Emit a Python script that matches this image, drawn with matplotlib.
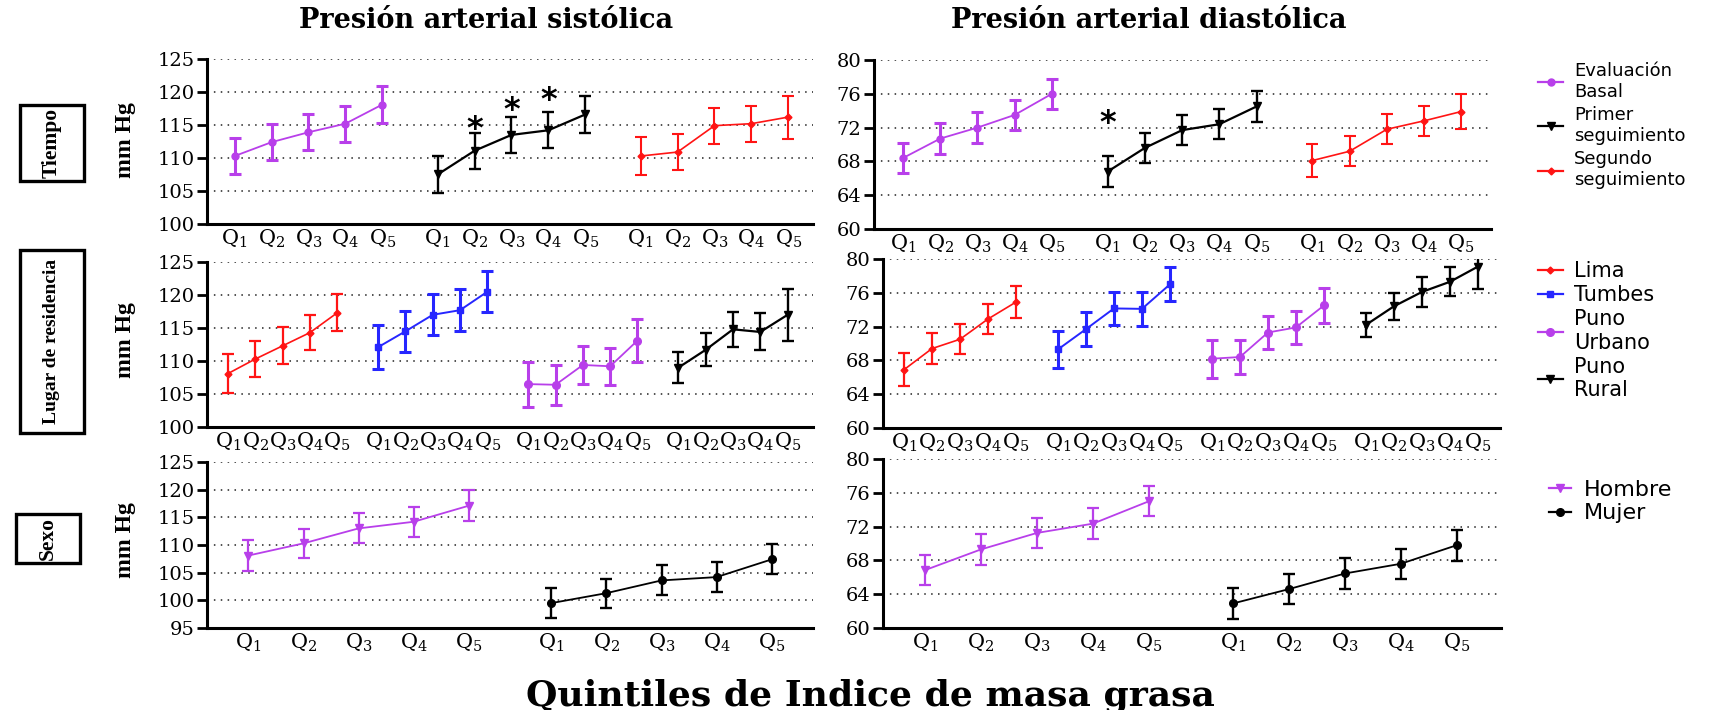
import matplotlib
matplotlib.use('Agg')
import matplotlib.pyplot as plt
from matplotlib.lines import Line2D
from matplotlib.patches import Rectangle
import numpy as np

W, H = 1731, 710
plt.rcParams['mathtext.fontset'] = 'dejavuserif'
plt.rcParams['font.family'] = ['DejaVu Serif']

# ---------------- data ----------------
quintiles = ['Q$_1$', 'Q$_2$', 'Q$_3$', 'Q$_4$', 'Q$_5$']

# Tiempo - systolic
sbp_basal = [110.3, 112.4, 113.9, 115.2, 118.1]
sbp_basal_err = [2.75, 2.75, 2.7, 2.75, 2.75]
sbp_primer = [107.5, 111.1, 113.5, 114.2, 116.6]
sbp_primer_err = [2.8, 2.75, 2.7, 2.75, 2.75]
sbp_segundo = [110.3, 110.9, 114.9, 115.2, 116.2]
sbp_segundo_err = [2.9, 2.7, 2.75, 2.75, 3.25]
sbp_star_q = [1, 2, 3]
sbp_star_y = [115.4, 118.3, 119.7]

# Tiempo - diastolic
dbp_basal = [68.4, 70.7, 72.0, 73.5, 76.0]
dbp_basal_err = [1.8, 1.8, 1.8, 1.8, 1.8]
dbp_primer = [66.8, 69.6, 71.7, 72.4, 74.5]
dbp_primer_err = [1.8, 1.8, 1.8, 1.8, 1.8]
dbp_segundo = [68.1, 69.2, 71.8, 72.8, 73.9]
dbp_segundo_err = [1.9, 1.8, 1.8, 1.8, 2.1]
dbp_star_q = [0]
dbp_star_y = [73.3]

# Lugar de residencia - systolic
sbp_lima = [108.1, 110.3, 112.3, 114.3, 117.3]
sbp_lima_err = [3.0, 2.7, 2.8, 2.7, 2.8]
sbp_tumbes = [112.1, 114.5, 117.0, 117.7, 120.5]
sbp_tumbes_err = [3.35, 3.1, 3.1, 3.2, 3.1]
sbp_punou = [106.5, 106.4, 109.4, 109.2, 113.1]
sbp_punou_err = [3.4, 3.0, 2.9, 2.8, 3.2]
sbp_punor = [109.0, 111.7, 114.8, 114.4, 117.0]
sbp_punor_err = [2.4, 2.5, 2.7, 2.8, 3.9]

# Lugar de residencia - diastolic
dbp_lima = [66.9, 69.4, 70.5, 72.9, 74.9]
dbp_lima_err = [1.95, 1.8, 1.8, 1.8, 1.85]
dbp_tumbes = [69.3, 71.7, 74.15, 74.1, 77.0]
dbp_tumbes_err = [2.2, 2.0, 2.0, 2.0, 2.0]
dbp_punou = [68.2, 68.4, 71.3, 71.9, 74.5]
dbp_punou_err = [2.25, 2.0, 2.0, 1.95, 2.1]
dbp_punor = [72.2, 74.4, 76.1, 77.3, 79.1]
dbp_punor_err = [1.4, 1.6, 1.75, 1.7, 2.7]

# Sexo
sbp_hombre = [108.1, 110.3, 113.0, 114.2, 117.1]
sbp_hombre_err = [2.8, 2.65, 2.7, 2.7, 2.8]
sbp_mujer = [99.5, 101.3, 103.6, 104.2, 107.4]
sbp_mujer_err = [2.7, 2.6, 2.7, 2.65, 2.7]
dbp_hombre = [66.85, 69.3, 71.25, 72.35, 75.0]
dbp_hombre_err = [1.8, 1.8, 1.8, 1.8, 1.75]
dbp_mujer = [62.9, 64.6, 66.45, 67.6, 69.8]
dbp_mujer_err = [1.8, 1.8, 1.8, 1.8, 1.85]

legend_tiempo = ['Evaluación\nBasal', 'Primer\nseguimiento', 'Segundo\nseguimiento']
legend_lugar = ['Lima', 'Tumbes', 'Puno\nUrbano', 'Puno\nRural']
legend_sexo = ['Hombre', 'Mujer']

# ---------------- styles ----------------
PURPLE = '#B83FEA'
RED = '#FF1414'
BLUE = '#2626FF'
BLACK = '#000000'
GAP = 5.5
LABEL_FONT = ['Liberation Serif', 'DejaVu Serif']

st_basal = dict(color=PURPLE, marker='o', ms=5, lw=1.3, elw=2.2)
st_primer = dict(color=BLACK, marker='v', ms=6, lw=1.6, elw=1.7)
st_segundo = dict(color=RED, marker='D', ms=3.5, lw=1.2, elw=1.5)
st_lima = dict(color=RED, marker='D', ms=3.5, lw=1.2, elw=1.6)
st_tumbes = dict(color=BLUE, marker='s', ms=5, lw=1.4, elw=2.2)
st_punou = dict(color=PURPLE, marker='o', ms=5.5, lw=1.3, elw=2.2)
st_punor = dict(color=BLACK, marker='v', ms=6, lw=1.6, elw=1.7)
st_hombre = dict(color=PURPLE, marker='v', ms=5.5, lw=1.3, elw=1.6)
st_mujer = dict(color=BLACK, marker='o', ms=5.5, lw=1.3, elw=1.7)

fig = plt.figure(figsize=(W / 100, H / 100), dpi=100)


def mkax(l, r, t, b, xlim, ylim, yticks, ngroups, qsize):
    ax = fig.add_axes([l / W, 1 - b / H, (r - l) / W, (b - t) / H])
    ax.set_xlim(*xlim)
    ax.set_ylim(*ylim)
    ax.set_yticks(yticks)
    ax.set_yticklabels([str(v) for v in yticks])
    for s in ['top', 'right']:
        ax.spines[s].set_visible(False)
    for s in ['left', 'bottom']:
        ax.spines[s].set_linewidth(2.2)
    ax.tick_params(axis='y', direction='out', length=7, width=2, labelsize=14, pad=2)
    ax.tick_params(axis='x', length=0, labelsize=qsize, pad=3)
    pos = []
    for g in range(ngroups):
        pos += [g * GAP + i for i in range(5)]
    ax.set_xticks(pos)
    ax.set_xticklabels(quintiles * ngroups)
    for yv in yticks[1:]:
        ax.axhline(yv, color='#222222', lw=1.1, ls=(0, (1, 3.5)), zorder=0)
    ax.patch.set_alpha(0)
    return ax


def series(ax, g, ys, err, st):
    xs = [g * GAP + i for i in range(len(ys))]
    ax.errorbar(xs, ys, yerr=err, color=st['color'], marker=st['marker'],
                ms=st['ms'], lw=st['lw'], elinewidth=st['elw'], capsize=4,
                capthick=st['elw'], zorder=3)


def stars(ax, g, qs, ys):
    for q, y in zip(qs, ys):
        ax.annotate('*', xy=(g * GAP + q, y), xytext=(0, -5), textcoords='offset points',
                    ha='center', va='center', fontsize=23, fontweight='bold',
                    family='DejaVu Sans')


# Row 1: Tiempo
ax1 = mkax(207, 813, 59, 224, (-0.75, 15.67), (100, 125), [100, 105, 110, 115, 120, 125], 3, 15)
series(ax1, 0, sbp_basal, sbp_basal_err, st_basal)
series(ax1, 1, sbp_primer, sbp_primer_err, st_primer)
series(ax1, 2, sbp_segundo, sbp_segundo_err, st_segundo)
stars(ax1, 1, sbp_star_q, sbp_star_y)

ax2 = mkax(874, 1491, 60, 229, (-0.78, 15.8), (60, 80), [60, 64, 68, 72, 76, 80], 3, 15)
series(ax2, 0, dbp_basal, dbp_basal_err, st_basal)
series(ax2, 1, dbp_primer, dbp_primer_err, st_primer)
series(ax2, 2, dbp_segundo, dbp_segundo_err, st_segundo)
stars(ax2, 1, dbp_star_q, dbp_star_y)

# Row 2: Lugar de residencia
ax3 = mkax(207, 813, 262, 427, (-0.77, 21.43), (100, 125), [100, 105, 110, 115, 120, 125], 4, 15)
series(ax3, 0, sbp_lima, sbp_lima_err, st_lima)
series(ax3, 1, sbp_tumbes, sbp_tumbes_err, st_tumbes)
series(ax3, 2, sbp_punou, sbp_punou_err, st_punou)
series(ax3, 3, sbp_punor, sbp_punor_err, st_punor)

ax4 = mkax(883, 1500, 259, 428, (-0.75, 21.29), (60, 80), [60, 64, 68, 72, 76, 80], 4, 15)
series(ax4, 0, dbp_lima, dbp_lima_err, st_lima)
series(ax4, 1, dbp_tumbes, dbp_tumbes_err, st_tumbes)
series(ax4, 2, dbp_punou, dbp_punou_err, st_punou)
series(ax4, 3, dbp_punor, dbp_punor_err, st_punor)

# Row 3: Sexo
ax5 = mkax(207, 813, 462, 628, (-0.753, 10.25), (95, 125), [95, 100, 105, 110, 115, 120, 125], 2, 15)
series(ax5, 0, sbp_hombre, sbp_hombre_err, st_hombre)
series(ax5, 1, sbp_mujer, sbp_mujer_err, st_mujer)

ax6 = mkax(883, 1501, 459, 628, (-0.75, 10.29), (60, 80), [60, 64, 68, 72, 76, 80], 2, 15)
series(ax6, 0, dbp_hombre, dbp_hombre_err, st_hombre)
series(ax6, 1, dbp_mujer, dbp_mujer_err, st_mujer)

# Titles
fig.text(486 / W, 1 - 20 / H, 'Presión arterial sistólica', ha='center', va='center',
         fontsize=19.5, fontweight='bold')
fig.text(1149 / W, 1 - 20 / H, 'Presión arterial diastólica', ha='center', va='center',
         fontsize=19.5, fontweight='bold')
fig.text(870 / W, 1 - 696 / H, 'Quintiles de Indice de masa grasa', ha='center', va='center',
         fontsize=26, fontweight='bold')

# Row labels with boxes
rows = [('Tiempo', 20, 84, 105, 181, 140, 15.5),
        ('Lugar de residencia', 20, 84, 250, 433, 340, 14),
        ('Sexo', 16, 80, 514, 563, 540, 15.5)]
for label, l, r, t, b, mid, fs in rows:
    fig.patches.append(Rectangle((l / W, 1 - b / H), (r - l) / W, (b - t) / H,
                                 transform=fig.transFigure, fill=False, lw=2.4,
                                 edgecolor='black'))
    fig.text((l + r) / 2 / W, 1 - (t + b) / 2 / H, label, rotation=90, ha='center',
             va='center', fontsize=fs, fontweight='bold', family=LABEL_FONT)
    fig.text(126 / W, 1 - mid / H, 'mm Hg', rotation=90, ha='center', va='center',
             fontsize=17, fontweight='bold', family=LABEL_FONT)


# Legends
def handles(styles):
    return [Line2D([], [], color=s['color'], marker=s['marker'], ms=s['ms'], lw=1.6)
            for s in styles]


fig.legend(handles([st_basal, st_primer, st_segundo]), legend_tiempo, loc='upper left',
           bbox_to_anchor=(1538 / W, 1 - 62 / H), frameon=False, borderpad=0,
           borderaxespad=0, handlelength=1.4, handletextpad=0.6, labelspacing=0.3,
           prop=dict(family='DejaVu Sans', size=13))
fig.legend(handles([st_lima, st_tumbes, st_punou, st_punor]), legend_lugar, loc='upper left',
           bbox_to_anchor=(1538 / W, 1 - 261 / H), frameon=False, borderpad=0,
           borderaxespad=0, handlelength=1.2, handletextpad=0.55, labelspacing=0.2,
           prop=dict(family='DejaVu Sans', size=15))
fig.legend(handles([st_hombre, st_mujer]), legend_sexo, loc='upper left',
           bbox_to_anchor=(1549 / W, 1 - 480 / H), frameon=False, borderpad=0,
           borderaxespad=0, handlelength=1.0, handletextpad=0.55, labelspacing=0.15,
           prop=dict(family='DejaVu Sans', size=16))

fig.savefig('out.png', dpi=100)
